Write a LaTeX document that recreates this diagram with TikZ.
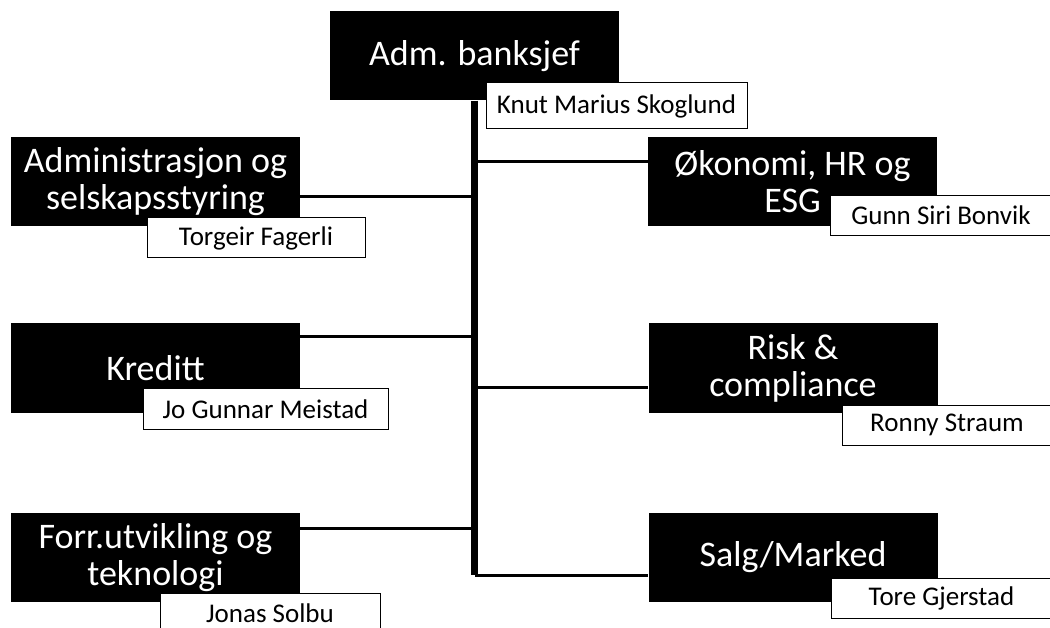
\documentclass[tikz,border=0pt]{standalone}
\usepackage{fontspec}
\setmainfont{Carlito}
\usepackage{tikz}
\usetikzlibrary{positioning, calc}

\begin{document}
\begin{tikzpicture}[x=1pt, y=-1pt,
    head/.style={fill=black, text=white, minimum width=289pt, minimum height=89pt,
        inner sep=0pt, align=center, font={\fontsize{36}{37}\selectfont}},
    person/.style={draw=black, fill=white, line width=1pt, minimum height=40pt,
        inner sep=0pt, font={\fontsize{27}{28}\selectfont}},
    trunk/.style={line width=7pt},
    branch/.style={line width=3pt}]
    % Canvas
    \fill[white] (0,0) rectangle (1050,628);
    \useasboundingbox (0,0) rectangle (1050,628);

    % Top
    \node[head] (adm) at (474.5,56) {Adm. banksjef};

    % Left column
    \node[head] (admin) at (155.5,182) {Administrasjon og\\selskapsstyring};
    \node[head] (kreditt) at (155.5,368) {Kreditt};
    \node[head] (forr) at (155.5,557.5) {Forr.utvikling og\\teknologi};

    % Right column
    \node[head] (okonomi) at (792.5,182) {Økonomi, HR og\\ESG};
    \node[head] (risk) at (793,368) {Risk \&\\compliance};
    \node[head] (salg) at (793,557.5) {Salg/Marked};

    % Junctions on the trunk
    \foreach \y/\n in {162/okonomi, 388/risk, 575/salg, 197/admin, 337/kreditt, 528/forr} {
        \coordinate (j-\n) at (474.5,\y);
    }

    % Trunk and branches
    \draw[trunk] (adm.south) -- (j-salg);
    \foreach \n in {okonomi, risk, salg} {
        \draw[branch] (j-\n) -- (j-\n -| \n.west);
    }
    \foreach \n in {admin, kreditt, forr} {
        \draw[branch] (j-\n) -- (j-\n -| \n.east);
    }

    % Names
    \node[person, minimum width=261pt, minimum height=46pt] (knut) at (616.5,106) {Knut Marius Skoglund};
    \node[person, minimum width=218pt] (torgeir) at (256,238) {Torgeir Fagerli};
    \node[person, minimum width=245pt] (jo) at (265.5,409) {Jo Gunnar Meistad};
    \node[person, minimum width=220pt] (jonas) at (270,613) {Jonas Solbu};
    \node[person, minimum width=222pt] (gunn) at (941,215.5) {Gunn Siri Bonvik};
    \node[person, minimum width=210pt] (ronny) at (947,425) {Ronny Straum};
    \node[person, minimum width=221pt] (tore) at (941.5,598) {Tore Gjerstad};
\end{tikzpicture}
\end{document}
